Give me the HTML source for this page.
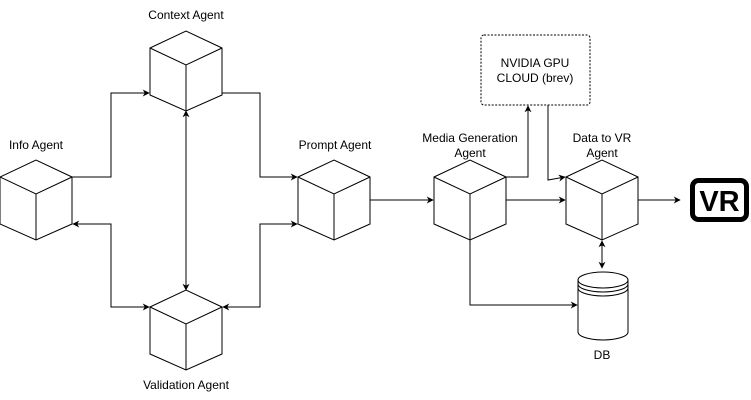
<!DOCTYPE html>
<html><head><meta charset="utf-8"><style>
body{margin:0;background:#fff;}
svg{display:block;font-family:"Liberation Sans",Arial,sans-serif;font-size:12px;}
</style></head><body>
<svg width="751" height="400" viewBox="0 0 751 400" xmlns="http://www.w3.org/2000/svg">
<defs>
<marker id="a" viewBox="0 0 10 10" refX="9" refY="5" markerWidth="7" markerHeight="7" orient="auto-start-reverse" markerUnits="userSpaceOnUse"><path d="M0,0 L10,5 L0,10 L3,5 z" fill="#000"/></marker>
<g id="cube" fill="#fff" stroke="#000" stroke-width="1">
<path d="M0,17 L36,0 L72,17 L72,64 L36,80 L0,64 Z"/>
<path d="M0,17 L36,34 L72,17 M36,34 L36,80" fill="none"/>
</g>
</defs>
<g fill="none" stroke="#000" stroke-width="1">
<polyline points="72,177 111,177 111,93 149,93" marker-end="url(#a)"/>
<polyline points="222,93 260,93 260,177 297,177" marker-end="url(#a)"/>
<polyline points="73,224 111,224 111,307 149,307" marker-start="url(#a)" marker-end="url(#a)"/>
<polyline points="297,224 260,224 260,307 223,307" marker-start="url(#a)" marker-end="url(#a)"/>
<line x1="186" y1="111" x2="186" y2="290" marker-start="url(#a)" marker-end="url(#a)"/>
<line x1="370" y1="200" x2="433" y2="200" marker-end="url(#a)"/>
<polyline points="506,177 528,177 528,106" marker-end="url(#a)"/>
<polyline points="548,105 548,180 565,177" marker-end="url(#a)"/>
<line x1="506" y1="200" x2="565" y2="200" marker-end="url(#a)"/>
<line x1="638" y1="200" x2="680" y2="200" marker-end="url(#a)"/>
<line x1="602" y1="241" x2="602" y2="268" marker-start="url(#a)" marker-end="url(#a)"/>
<polyline points="470,240 470,305 577,305" marker-end="url(#a)"/>
</g>
<use href="#cube" x="0" y="160"/>
<use href="#cube" x="150" y="31"/>
<use href="#cube" x="150" y="290"/>
<use href="#cube" x="298" y="160"/>
<use href="#cube" x="434" y="160"/>
<use href="#cube" x="566" y="160"/>
<rect x="481" y="35" width="109" height="70" rx="3" fill="#fff" stroke="#000" stroke-width="1" stroke-dasharray="2,1.5"/>
<g fill="#fff" stroke="#000">
<path d="M578,280 L578,332 A25,8 0 0 0 628,332 L628,280"/>
<ellipse cx="603" cy="280" rx="25" ry="8"/>
<path d="M578,284 A25,8 0 0 0 628,284 M578,288 A25,8 0 0 0 628,288" fill="none"/>
</g>
<rect x="692.5" y="180.5" width="54" height="39" rx="6" fill="#fff" stroke="#000" stroke-width="5"/>
<text x="719.5" y="211" text-anchor="middle" font-size="29" font-weight="bold">VR</text>
<g text-anchor="middle" fill="#000">
<text x="186" y="19">Context Agent</text>
<text x="36" y="149">Info Agent</text>
<text x="335" y="149">Prompt Agent</text>
<text x="186" y="389">Validation Agent</text>
<text x="470" y="142">Media Generation</text>
<text x="470" y="157">Agent</text>
<text x="602" y="142">Data to VR</text>
<text x="602" y="157">Agent</text>
<text x="535" y="67">NVIDIA GPU</text>
<text x="535" y="82">CLOUD (brev)</text>
<text x="602" y="359">DB</text>
</g>
</svg>
</body></html>
